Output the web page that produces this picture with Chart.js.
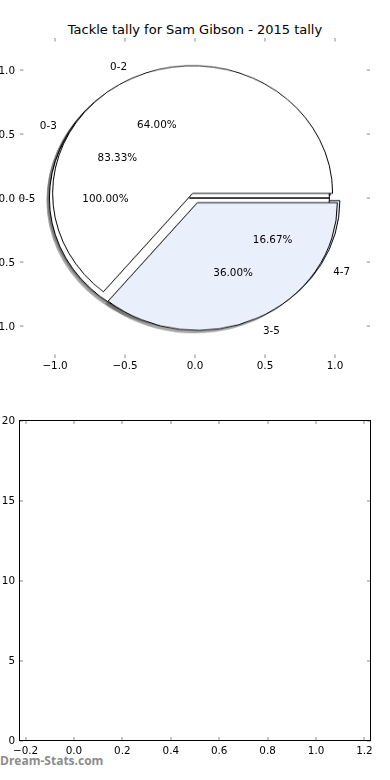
<!DOCTYPE html>
<html>
<head>
<meta charset="utf-8">
<script src="https://cdn.jsdelivr.net/npm/chart.js@4.4.0/dist/chart.umd.min.js"></script>
<style>
  html, body { margin: 0; padding: 0; background: #fff; }
  #wrap { position: relative; width: 390px; height: 780px; overflow: hidden; font-family: "DejaVu Sans", sans-serif; }
  canvas { position: absolute; }
  #title { position: absolute; left: 0; top: 22px; width: 390px; text-align: center; font-size: 13px; line-height: 15px; color: #000; }
  #mark { position: absolute; left: 0; top: 754px; font-size: 12px; line-height: 14px; font-weight: bold; font-family: "Open Sans", sans-serif; color: #8c8c8c; }
</style>
</head>
<body>
<div id="wrap">
  <canvas id="topAxes" width="420" height="390" style="left:-30px;top:0;width:420px;height:390px;z-index:5"></canvas>
  <canvas id="bottomAxes" width="420" height="380" style="left:-30px;top:400px;width:420px;height:380px;z-index:5"></canvas>
  <div id="title">Tackle tally for Sam Gibson - 2015 tally</div>
  <div id="mark">Dream-Stats.com</div>
</div>
<script>
// pies, drawn one over the other (first = lowest)
const pieBLabels = ['0-3', '4-7'];
const pieBValues = [5, 1];
const pieCLabels = ['0-5'];
const pieCValues = [6];
const pieALabels = ['0-2', '3-5'];
const pieAValues = [16, 9];
const wedgeColors = ['#ffffff', '#e9effb'];

// axes ticks
const xTicksTop = [-1, -0.5, 0, 0.5, 1];
const yTicksTop = [-1, -0.5, 0, 0.5, 1];
const xTicksBottom = [-0.2, 0, 0.2, 0.4, 0.6, 0.8, 1, 1.2];
const yTicksBottom = [0, 5, 10, 15, 20];

const EXPLODE = 0.04;
const SHADOW = 0.02;
const LABEL_DIST = 1.1;
const PCT_DIST = 0.6;

const pies = [
  { labels: pieBLabels, values: pieBValues },
  { labels: pieCLabels, values: pieCValues },
  { labels: pieALabels, values: pieAValues }
];

const tickFont = { family: 'DejaVu Sans', size: 10.4 };
const fmt1 = v => (v < 0 ? '\u2212' : '') + Math.abs(v).toFixed(1);

// little grey tick marks inside the axes, optional black frame
const tickMarks = {
  id: 'tickMarks',
  afterDraw(chart, args, opts) {
    const { ctx, chartArea: a, scales: { x, y } } = chart;
    ctx.save();
    ctx.strokeStyle = '#c4c4c4';
    ctx.lineWidth = 2;
    const len = 3.5;
    ctx.beginPath();
    x.ticks.forEach(t => {
      const px = Math.round(x.getPixelForValue(t.value));
      ctx.moveTo(px, a.top); ctx.lineTo(px, a.top + len);
      ctx.moveTo(px, a.bottom); ctx.lineTo(px, a.bottom - len);
    });
    y.ticks.forEach(t => {
      const py = Math.round(y.getPixelForValue(t.value));
      ctx.moveTo(a.left, py); ctx.lineTo(a.left + len, py);
      ctx.moveTo(a.right, py); ctx.lineTo(a.right - len, py);
    });
    ctx.stroke();
    if (opts.frame) {
      ctx.strokeStyle = '#000';
      ctx.lineWidth = 1;
      ctx.strokeRect(a.left, a.top, a.right - a.left, a.bottom - a.top);
    }
    ctx.restore();
  }
};

// wedge labels and percentages, placed like matplotlib does
const pieText = {
  id: 'pieText',
  afterDraw(chart) {
    const { ctx, scales: { x, y } } = chart;
    ctx.save();
    ctx.font = '10.4px "DejaVu Sans"';
    ctx.fillStyle = '#000';
    ctx.textBaseline = 'middle';
    pies.forEach(p => {
      const total = p.values.reduce((s, v) => s + v, 0);
      let start = 0;
      p.values.forEach((v, i) => {
        const frac = v / total;
        const mid = (start + frac / 2) * 2 * Math.PI;
        const ex = EXPLODE * Math.cos(mid), ey = EXPLODE * Math.sin(mid);
        const lx = ex + LABEL_DIST * Math.cos(mid), ly = ey + LABEL_DIST * Math.sin(mid);
        ctx.textAlign = lx > 0 ? 'left' : 'right';
        ctx.fillText(p.labels[i], x.getPixelForValue(lx), y.getPixelForValue(ly) + 1.5);
        ctx.textAlign = 'center';
        ctx.fillText((frac * 100).toFixed(2) + '%',
          x.getPixelForValue(ex + PCT_DIST * Math.cos(mid)),
          y.getPixelForValue(ey + PCT_DIST * Math.sin(mid)) + 1.5);
        start += frac;
      });
    });
    ctx.restore();
  }
};

function axisScale(min, max, ticks, fmt, side, pad) {
  const s = {
    type: 'linear', min: min, max: max,
    grid: { display: false, drawTicks: false },
    border: { display: false },
    afterBuildTicks: sc => { sc.ticks = ticks.map(v => ({ value: v })); },
    ticks: { font: tickFont, color: '#000', padding: pad, maxRotation: 0, autoSkip: false, callback: fmt }
  };
  if (side === 'x') s.afterFit = sc => { sc.height = 20; };
  else { s.afterFit = sc => { sc.width = side; }; s.ticks.labelOffset = 1; }
  return s;
}

const topChart = new Chart(document.getElementById('topAxes'), {
  type: 'scatter',
  data: { datasets: [] },
  options: {
    responsive: false, animation: false,
    layout: { padding: { top: 38, right: 20, bottom: 12, left: 0 } },
    plugins: { legend: { display: false }, tooltip: { enabled: false }, tickMarks: { frame: false } },
    scales: {
      x: axisScale(-1.25, 1.25, xTicksTop, fmt1, 'x', 2),
      y: axisScale(-1.25, 1.25, yTicksTop, fmt1, 50, 5)
    }
  },
  plugins: [tickMarks, pieText]
});

new Chart(document.getElementById('bottomAxes'), {
  type: 'scatter',
  data: { datasets: [] },
  options: {
    responsive: false, animation: false,
    layout: { padding: { top: 20.5, right: 19.5, bottom: 19.5, left: 0 } },
    plugins: { legend: { display: false }, tooltip: { enabled: false }, tickMarks: { frame: true } },
    scales: {
      x: axisScale(-0.225, 1.225, xTicksBottom, fmt1, 'x', 4.5),
      y: axisScale(0, 20, yTicksBottom, v => String(v), 49.5, 4.5)
    }
  },
  plugins: [tickMarks]
});

// pie geometry from the top axes scales
const wrap = document.getElementById('wrap');
const topCanvas = document.getElementById('topAxes');
const xs = topChart.scales.x, ys = topChart.scales.y;
const cx = xs.getPixelForValue(0) + topCanvas.offsetLeft;
const cy = ys.getPixelForValue(0) + topCanvas.offsetTop;
const rx = xs.getPixelForValue(1) - xs.getPixelForValue(0);
const ry = ys.getPixelForValue(0) - ys.getPixelForValue(1);

// pull every wedge out along its middle angle
const explode = {
  id: 'explode',
  beforeDatasetDraw(chart, args) {
    const ctx = chart.ctx;
    args.meta.data.forEach(arc => {
      const mid = (arc.startAngle + arc.endAngle) / 2;
      const d = EXPLODE * arc.outerRadius;
      ctx.save();
      ctx.translate(Math.cos(mid) * d, Math.sin(mid) * d);
      arc.draw(ctx);
      ctx.restore();
    });
    return false;
  }
};

function makePie(labels, values, shadow) {
  const size = Math.ceil(2 * rx + 40);
  const k = ry / rx;
  const c = document.createElement('canvas');
  c.width = size;
  c.height = size;
  c.style.width = size + 'px';
  c.style.height = (size * k) + 'px';
  c.style.left = (cx - size / 2 - (shadow ? SHADOW * rx : 0)) + 'px';
  c.style.top = (cy - size * k / 2 + (shadow ? SHADOW * ry : 0)) + 'px';
  c.style.zIndex = shadow ? 1 : 2;
  wrap.appendChild(c);
  // matplotlib goes counter-clockwise from 3 o'clock: reverse and start at 90deg
  new Chart(c, {
    type: 'pie',
    data: {
      labels: labels.slice().reverse(),
      datasets: [{
        data: values.slice().reverse(),
        backgroundColor: shadow ? 'rgba(77,77,77,0.5)' : wedgeColors.slice(0, values.length).reverse(),
        borderColor: '#000',
        borderWidth: shadow ? 0 : 1,
        radius: rx
      }]
    },
    options: {
      responsive: false, animation: false, rotation: 90,
      layout: { padding: 0 },
      plugins: { legend: { display: false }, tooltip: { enabled: false } }
    },
    plugins: [explode]
  });
}

pies.forEach(p => makePie(p.labels, p.values, true));
pies.forEach(p => makePie(p.labels, p.values, false));
</script>
</body>
</html>
